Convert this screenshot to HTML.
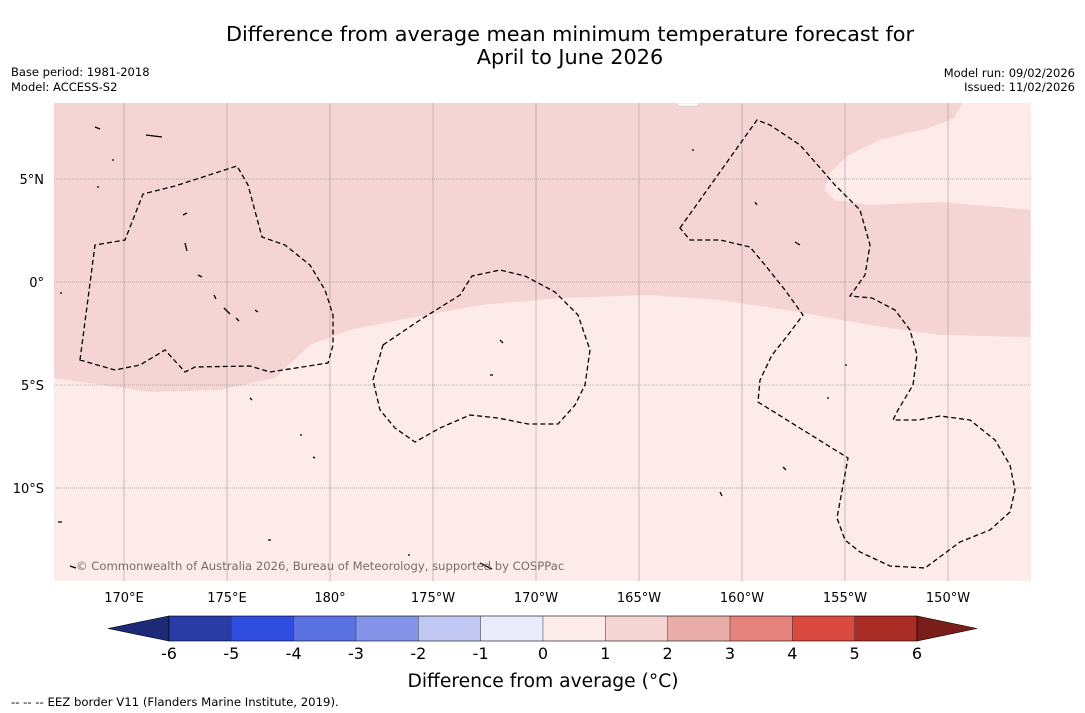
<!DOCTYPE html>
<html><head><meta charset="utf-8">
<style>
body{margin:0;background:#fff;width:1085px;height:713px;overflow:hidden;font-family:"DejaVu Sans",sans-serif;}
svg{display:block}
</style></head>
<body>
<svg id="chart" width="1085" height="713" xmlns="http://www.w3.org/2000/svg" font-family="DejaVu Sans, Liberation Sans, sans-serif">
<text x="570" y="41" font-size="20.8" text-anchor="middle">Difference from average mean minimum temperature forecast for</text>
<text x="570" y="64" font-size="20.8" text-anchor="middle">April to June 2026</text>
<text x="11" y="76" font-size="11.5">Base period: 1981-2018</text>
<text x="11" y="91" font-size="11.5">Model: ACCESS-S2</text>
<text x="1075" y="77" font-size="11.5" text-anchor="end">Model run: 09/02/2026</text>
<text x="1075" y="91" font-size="11.5" text-anchor="end">Issued: 11/02/2026</text>
<defs><clipPath id="mapclip"><rect x="54" y="103" width="977" height="478"/></clipPath></defs>
<g id="map" clip-path="url(#mapclip)"></g>
<g id="axes"></g>
<g id="cbar"></g>
<text x="543" y="687" font-size="18.7" text-anchor="middle">Difference from average (°C)</text>
<text x="11" y="706" font-size="11.7">--  --  -- EEZ border V11 (Flanders Marine Institute, 2019).</text>
</svg>
<script>
// geographic extent (lon in degrees east, 0-360)
const lonTicks = [170,175,180,185,190,195,200,205,210];
const lonLabels = ["170°E","175°E","180°","175°W","170°W","165°W","160°W","155°W","150°W"];
const latTicks = [5,0,-5,-10];
const latLabels = ["5°N","0°","5°S","10°S"];
// contour boundary between 0–1 and 1–2 classes
const warmLon = [166.6,171.26,174.66,177.33,179.03,180.97,183.4,187.28,191.17,195.5,198.9,202.8,206.2,209.6,214];
const warmLat = [-4.66,-5.34,-5.24,-4.66,-3.06,-2.33,-1.84,-1.12,-0.78,-0.63,-0.87,-1.46,-2.09,-2.57,-2.67];
// cooler (0–1) pocket at upper right
const pocketLon = [210.7,210.3,209.1,206.7,205.2,204.3,204.0,204.5,206.2,209.6,212.5,214];
const pocketLat = [8.69,7.96,7.48,6.9,6.17,5.34,4.47,3.98,3.74,3.88,3.64,3.5];
// colorbar
const cbTicks = [-6,-5,-4,-3,-2,-1,0,1,2,3,4,5,6];
const cbColors = ["#2a3ca6","#2f4edf","#5a71e2","#8494e8","#c0c8f3","#e9ebfb","#fcebe9","#f5d5d4","#eaaca7","#e5827b","#d9493f","#a92c25"];
const cbLow = "#1c2a78", cbHigh = "#7a1e19";

const NS="http://www.w3.org/2000/svg";
const X = lon => 124 + (lon-170)*20.6;
const Y = lat => 282 - lat*20.6;
const CX = v => 169 + (v+6)*62.33;
function mk(tag, attrs, parent){const e=document.createElementNS(NS,tag);for(const k in attrs)e.setAttribute(k,attrs[k]);parent.appendChild(e);return e;}
const map=document.getElementById('map'), axes=document.getElementById('axes'), cbar=document.getElementById('cbar');

let bg=mk('rect',{x:54,y:103,width:977,height:478,fill:'#fcebe9'},map);


let d='M54,103 ';
warmLon.forEach((l,i)=>{d+='L'+X(l)+','+Y(warmLat[i])+' ';});
d+='L1031,103 Z';
let warm=mk('path',{d:d,fill:'#f5d5d4'},map);


let p='M'+X(pocketLon[0])+',103 ';
pocketLon.forEach((l,i)=>{p+='L'+X(l)+','+Y(pocketLat[i])+' ';});
p+='L1031,103 Z';
let pk=mk('path',{d:p,fill:'#fcebe9'},map);


let isl=mk('path',{d:'M675,103 L700,103 L696,106 L680,106 Z',fill:'#fff',stroke:'#ccc','stroke-width':0.5},map);



// gridlines
lonTicks.forEach((l,i)=>{
  const g=mk('line',{x1:X(l),x2:X(l),y1:103,y2:581,stroke:'#9a8a8a','stroke-width':0.5},map);
  
  
  const t=mk('text',{x:X(l),y:602,'font-size':13,'text-anchor':'middle'},axes);
  t.textContent=lonLabels[i];
  
  
});
latTicks.forEach((l,i)=>{
  const g=mk('line',{x1:54,x2:1031,y1:Y(l),y2:Y(l),stroke:'#777','stroke-width':0.6,'stroke-dasharray':'1,1'},map);
  
  
  const t=mk('text',{x:44,y:Y(l)+5,'font-size':13,'text-anchor':'end'},axes);
  t.textContent=latLabels[i];
  
  
});

// EEZ borders
const eez=[
"M80,360 L95,245 L125,240 L143,194 L175,186 L237,166 L248,185 L262,237 L285,245 L310,265 L325,290 L333,315 L333,345 L328,363 L270,372 L250,366 L195,367 L185,372 L165,350 L140,365 L115,370 Z",
"M383,345 L420,320 L460,295 L472,276 L500,270 L525,276 L555,292 L578,315 L590,350 L585,385 L575,405 L558,424 L528,424 L498,418 L470,415 L440,428 L415,442 L395,428 L380,410 L373,380 Z",
"M680,228 L757,120 L770,125 L800,145 L815,162 L835,185 L860,210 L870,245 L865,275 L850,296 L872,298 L895,310 L910,330 L917,355 L913,385 L898,410 L893,420 L918,420 L940,416 L970,420 L995,440 L1010,465 L1015,490 L1010,512 L990,530 L960,542 L925,568 L890,566 L860,552 L845,540 L837,518 L848,458 L758,402 L760,380 L772,355 L788,335 L803,315 L785,290 L765,265 L750,247 L720,240 L690,240 Z"];
eez.forEach(s=>{
  const e=mk('path',{d:s,fill:'none',stroke:'#000','stroke-width':1.3,'stroke-dasharray':'5,3'},map);
  
  
});
// small islands
const dots="M185,243 l2,8 M198,275 l4,2 M214,295 l2,4 M224,308 l6,6 M236,318 l3,3 M255,310 l3,2 M146,135 l16,2 M95,127 l5,2 M183,215 l4,-2 M500,340 l3,3 M490,375 l3,0 M783,467 l3,3 M795,242 l5,3 M755,202 l2,3 M480,563 l12,6 M58,522 l4,0 M70,566 l6,2 M720,492 l2,4 M112,160 l2,0 M97,187 l2,0 M60,293 l2,0 M250,398 l2,2 M300,435 l2,0 M313,457 l2,1 M268,540 l3,0 M408,555 l2,0 M692,150 l2,0 M845,365 l2,0 M827,398 l2,0";
const ds=mk('path',{d:dots,fill:'none',stroke:'#000','stroke-width':1.3},map);


const cp=mk('text',{x:76,y:570,'font-size':11.6,fill:'#7a6a6a'},map);
cp.textContent='© Commonwealth of Australia 2026, Bureau of Meteorology, supported by COSPPac';



// colorbar
const y0=616,y1=641;
let la=mk('polygon',{points:`${CX(-6)},${y0} ${CX(-6)},${y1} 108,628.5`,fill:cbLow,stroke:'#000','stroke-width':0.6},cbar);


let ra=mk('polygon',{points:`${CX(6)},${y0} ${CX(6)},${y1} 977,628.5`,fill:cbHigh,stroke:'#000','stroke-width':0.6},cbar);


cbColors.forEach((c,i)=>{
  const r=mk('rect',{x:CX(cbTicks[i]),y:y0,width:CX(cbTicks[i+1])-CX(cbTicks[i]),height:y1-y0,fill:c},cbar);
  
  
  if(i>0){const l=mk('line',{x1:CX(cbTicks[i]),x2:CX(cbTicks[i]),y1:y0,y2:y1,stroke:'#333','stroke-width':0.5},cbar);
  
  }
});
let fr=mk('rect',{x:CX(-6),y:y0,width:CX(6)-CX(-6),height:y1-y0,fill:'none',stroke:'#000','stroke-width':0.6},cbar);


cbTicks.forEach(v=>{
  const t=mk('text',{x:CX(v),y:659,'font-size':16,'text-anchor':'middle'},cbar);
  t.textContent=String(v);
  
  
});
</script>
</body></html>
